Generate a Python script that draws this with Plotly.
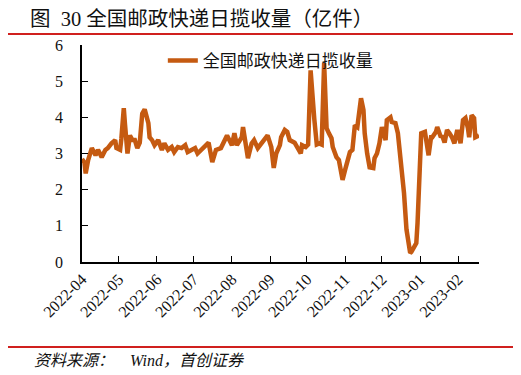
import plotly.graph_objects as go

dates = [
    "2022-04-01", "2022-04-03", "2022-04-04", "2022-04-06", "2022-04-09", "2022-04-12", "2022-04-14",
    "2022-04-17", "2022-04-20", "2022-04-22", "2022-04-25", "2022-04-28", "2022-04-29",
    "2022-05-02", "2022-05-03", "2022-05-05", "2022-05-06", "2022-05-08", "2022-05-10", "2022-05-12",
    "2022-05-14", "2022-05-16", "2022-05-18", "2022-05-20", "2022-05-22", "2022-05-25", "2022-05-26",
    "2022-05-28", "2022-05-30",
    "2022-06-02", "2022-06-05", "2022-06-07", "2022-06-10", "2022-06-13", "2022-06-15", "2022-06-18",
    "2022-06-21", "2022-06-24", "2022-06-26", "2022-06-29",
    "2022-07-02", "2022-07-04", "2022-07-07", "2022-07-10", "2022-07-13", "2022-07-16", "2022-07-19",
    "2022-07-23", "2022-07-26", "2022-07-28",
    "2022-08-01", "2022-08-03", "2022-08-05", "2022-08-09", "2022-08-10", "2022-08-13", "2022-08-14",
    "2022-08-17", "2022-08-19", "2022-08-22", "2022-08-25", "2022-08-27", "2022-08-30",
    "2022-09-02", "2022-09-04", "2022-09-06", "2022-09-09", "2022-09-10", "2022-09-13", "2022-09-15",
    "2022-09-17", "2022-09-21", "2022-09-23", "2022-09-26", "2022-09-27", "2022-09-30",
    "2022-10-02", "2022-10-04", "2022-10-07", "2022-10-09", "2022-10-11", "2022-10-13", "2022-10-15",
    "2022-10-17", "2022-10-19", "2022-10-21", "2022-10-22", "2022-10-25", "2022-10-27", "2022-10-30",
    "2022-11-01", "2022-11-03", "2022-11-05", "2022-11-07", "2022-11-09", "2022-11-11", "2022-11-13",
    "2022-11-14", "2022-11-16", "2022-11-17", "2022-11-19", "2022-11-21", "2022-11-24", "2022-11-25",
    "2022-11-27", "2022-11-29",
    "2022-12-01", "2022-12-04", "2022-12-05", "2022-12-08", "2022-12-09", "2022-12-12", "2022-12-14",
    "2022-12-16", "2022-12-19", "2022-12-21", "2022-12-24", "2022-12-25", "2022-12-29", "2022-12-30",
    "2023-01-01", "2023-01-02", "2023-01-05", "2023-01-06", "2023-01-08", "2023-01-10", "2023-01-11",
    "2023-01-14", "2023-01-15", "2023-01-18", "2023-01-19", "2023-01-21", "2023-01-23", "2023-01-25",
    "2023-01-27", "2023-01-29", "2023-01-31",
    "2023-02-01", "2023-02-03", "2023-02-05", "2023-02-07", "2023-02-09", "2023-02-10", "2023-02-12",
    "2023-02-14", "2023-02-15", "2023-02-18",
]

volume = [
    2.85, 2.75, 2.45, 2.82, 3.15, 2.95, 3.10,
    2.90, 3.10, 3.15, 3.28, 3.37, 3.15,
    3.10, 3.40, 4.25, 3.80, 3.00, 3.50, 3.37,
    3.37, 3.15, 3.30, 4.10, 4.22, 3.84, 3.45,
    3.37, 3.23,
    3.37, 3.10, 3.28, 3.10, 3.18, 3.04, 3.18,
    3.15, 3.23, 3.04, 3.10,
    3.15, 3.00, 3.10, 3.18, 3.30, 2.76, 3.10,
    3.15, 3.37, 3.50,
    3.23, 3.56, 3.23, 3.45, 3.73, 3.10, 2.87,
    3.28, 3.37, 3.15, 3.30, 3.37, 3.50,
    3.18, 2.60, 3.00, 3.23, 3.45, 3.65, 3.60,
    3.37, 3.30, 3.18, 3.00, 3.23, 3.18,
    3.25, 5.30, 3.95, 3.25, 3.28, 3.25, 5.50,
    3.70, 3.55, 3.42, 3.18, 2.90, 2.82, 2.27,
    2.54, 2.82, 3.04, 3.10, 3.78, 3.73, 4.39,
    4.53, 4.20, 3.56, 3.00, 2.62, 2.60, 2.87,
    3.00, 3.28,
    3.73, 3.37, 3.92, 4.00, 3.87, 3.84, 3.56,
    2.90, 1.90, 0.90, 0.25, 0.28, 0.52, 1.08,
    2.90, 3.56, 3.60, 3.37, 2.95, 3.45, 3.45,
    3.60, 3.73, 3.45, 3.50, 3.30, 3.65, 3.56,
    3.45, 3.28, 3.60,
    3.60, 3.28, 3.92, 3.98, 3.70, 3.45, 4.06,
    3.98, 3.45, 3.50,
]

series_name = "全国邮政快递日揽收量"
title_text = "图\u00a0\u00a030 全国邮政快递日揽收量（亿件）"
source_text = "资料来源：\u00a0\u00a0\u00a0\u00a0Wind，首创证券"
month_ticks = ["2022-04-01", "2022-05-01", "2022-06-01", "2022-07-01", "2022-08-01", "2022-09-01",
               "2022-10-01", "2022-11-01", "2022-12-01", "2023-01-01", "2023-02-01"]
month_labels = ["2022-04", "2022-05", "2022-06", "2022-07", "2022-08", "2022-09",
                "2022-10", "2022-11", "2022-12", "2023-01", "2023-02"]
y_ticks = [0, 1, 2, 3, 4, 5, 6]

LINE = "#C55A11"
RED = "#D0201E"
SERIF = "Liberation Serif, 'Noto Sans CJK SC', serif"
CJK = "'Liberation Serif', 'Noto Sans CJK SC', sans-serif"

# page body has an 8px default margin, so the figure is drawn 8px smaller and offset
OFF = 8
W, H = 521 - OFF, 375 - OFF

fig = go.Figure()
fig.add_trace(go.Scatter(
    x=dates, y=volume, mode="lines", name=series_name,
    line=dict(color=LINE, width=4.5),
))

fig.update_layout(
    width=W, height=H,
    margin=dict(l=82 - OFF, r=42, t=45 - OFF, b=113, autoexpand=False),
    paper_bgcolor="white", plot_bgcolor="white",
    showlegend=True,
    legend=dict(x=0.2036, y=0.926, xanchor="left", yanchor="middle",
                bgcolor="rgba(0,0,0,0)", font=dict(family=CJK, size=17, color="#111"),
                itemwidth=30),
    title=dict(text=title_text, x=(30 - OFF) / W, xanchor="left", xref="container",
               y=1 - (19 - OFF) / H, yanchor="middle", yref="container",
               font=dict(family=CJK, size=20.5, color="#111")),
    xaxis=dict(
        type="date", range=["2022-04-01", "2023-02-18"], automargin=False,
        tickvals=month_ticks, ticktext=month_labels, tickangle=-45,
        ticks="inside", ticklen=6, tickcolor="black", tickwidth=1.2,
        showline=True, linecolor="black", linewidth=1.5,
        showgrid=False, zeroline=False,
        tickfont=dict(family=SERIF, size=16, color="#111"),
    ),
    yaxis=dict(
        range=[0, 6], tickvals=y_ticks, automargin=False,
        ticks="inside", ticklen=6, tickcolor="black", tickwidth=1.2,
        showline=True, linecolor="black", linewidth=1.5,
        showgrid=False, zeroline=False,
        ticklabelstandoff=14,
        tickfont=dict(family=SERIF, size=16, color="#111"),
    ),
)

# decorative red rules above and below the chart
fig.add_shape(type="line", xref="paper", yref="paper",
              x0=(5 - 82) / 397, x1=(516 - 82) / 397,
              y0=(262 - 34) / 217, y1=(262 - 34) / 217,
              line=dict(color=RED, width=2))
fig.add_shape(type="line", xref="paper", yref="paper",
              x0=(5 - 82) / 397, x1=(516 - 82) / 397,
              y0=(262 - 347) / 217, y1=(262 - 347) / 217,
              line=dict(color=RED, width=2))

fig.add_annotation(text=source_text, xref="paper", yref="paper",
                   x=(32 - 82) / 397, y=(262 - 360) / 217, xanchor="left", yanchor="middle",
                   showarrow=False,
                   font=dict(family=CJK, size=16, color="#111", style="italic"))

fig.write_html("out.html")
